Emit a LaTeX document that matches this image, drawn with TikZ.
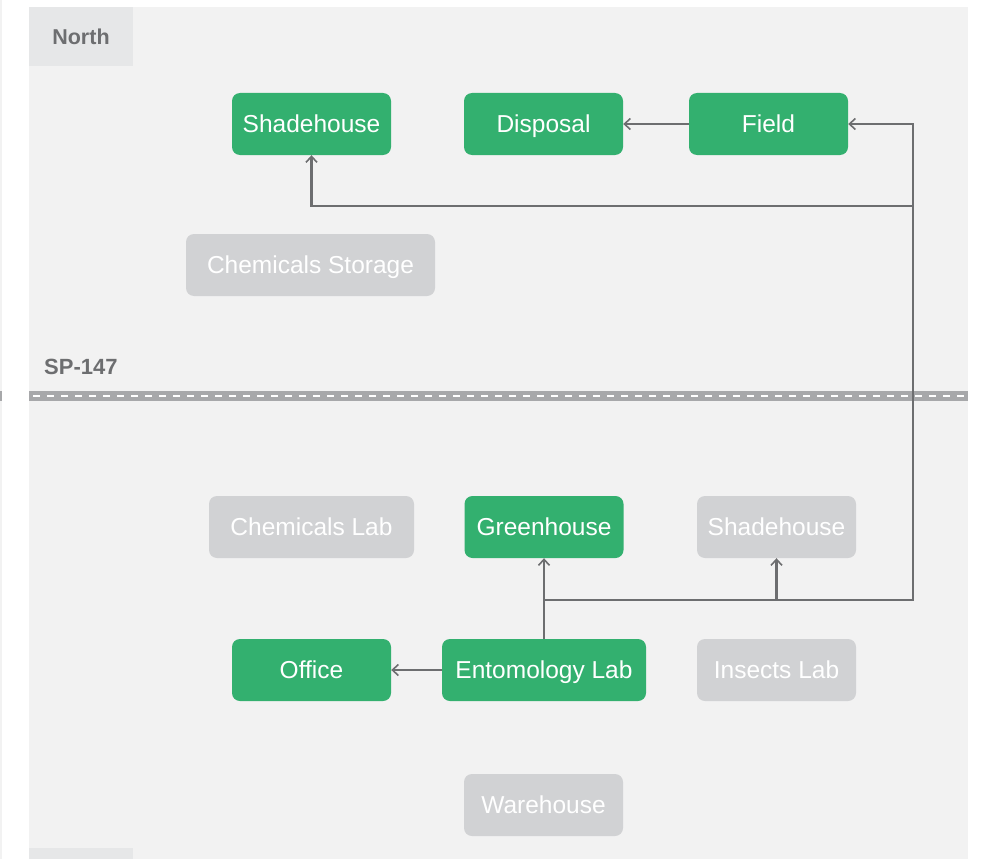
\documentclass[tikz,border=0pt]{standalone}
\usepackage{fontspec}
\setmainfont{Liberation Sans}
\usetikzlibrary{arrows.meta}

\definecolor{sitegreen}{HTML}{33B06F}
\definecolor{idlegray}{HTML}{D1D2D4}
\definecolor{panelgray}{HTML}{F2F2F2}
\definecolor{tabgray}{HTML}{E6E7E8}
\definecolor{roadgray}{HTML}{A7A8AA}
\definecolor{linkgray}{HTML}{6D6E70}

\tikzset{
 site/.style={fill=sitegreen, text=white, rounded corners=8pt, inner sep=0pt,
   text height=17.5pt, text depth=0pt,
   minimum width=159pt, minimum height=62pt, font=\fontsize{24.5}{28}\selectfont},
 idle/.style={site, fill=idlegray},
 tab/.style={fill=tabgray, text=linkgray, inner sep=0pt, font=\bfseries\fontsize{21.5}{25}\selectfont,
   text height=15.5pt, text depth=0pt, minimum width=104pt, minimum height=59pt},
 link/.style={linkgray, line width=2.4pt, -{Straight Barb[length=6pt,width=11pt,line width=1.6pt]}}
}

\begin{document}
\begin{tikzpicture}[x=1pt, y=-1pt]
\useasboundingbox (0,0) rectangle (983,859);

% campus panel, with the edge of the next one
\fill[panelgray] (0,0) rectangle (2,859);
\fill[panelgray] (29,7) rectangle (968,859);
\node[tab] (north) at (81,37) {North};
\fill[tabgray] (29,848) rectangle (133,859);

% road
\fill[roadgray] (29,391) rectangle (968,401);
\fill[roadgray] (0,391) rectangle (2,401);
\draw[white, line width=2pt, dash pattern=on 7pt off 7pt] (33,396) -- (968,396);
\node[anchor=west, text=linkgray, font=\bfseries\fontsize{22}{26}\selectfont, inner sep=0pt,
  text height=15.5pt, text depth=0pt] (road) at (44,367) {SP-147};

% north side
\node[site] (shadeN) at (311.5,124) {Shadehouse};
\node[site] (disposal) at (543.5,124) {Disposal};
\node[site] (field) at (768.5,124) {Field};
\node[idle, minimum width=249pt] (chemstore) at (310.5,265) {Chemicals Storage};

% south side
\node[idle, minimum width=205pt] (chemlab) at (311.5,527) {Chemicals Lab};
\node[site] (greenhouse) at (544,527) {Greenhouse};
\node[idle] (shadeS) at (776.5,527) {Shadehouse};
\node[site] (office) at (311.5,670) {Office};
\node[site, minimum width=204pt] (entolab) at (544,670) {Entomology Lab};
\node[idle] (insects) at (776.5,670) {Insects Lab};
\node[idle] (warehouse) at (543.5,805) {Warehouse};

% routes
\coordinate (split) at (entolab.north |- 0,600);
\coordinate (corner) at (913,600);
\coordinate (tap) at (913,206);

\draw[link] (field) -- (disposal);
\draw[link] (entolab) -- (office);
\draw[link] (entolab.north) -- (greenhouse.south);
\draw[link] (split) -| (shadeS.south);
\draw[link] (split) -- (corner) |- (field.east);
\draw[link] (tap) -| (shadeN.south);
\end{tikzpicture}
\end{document}
